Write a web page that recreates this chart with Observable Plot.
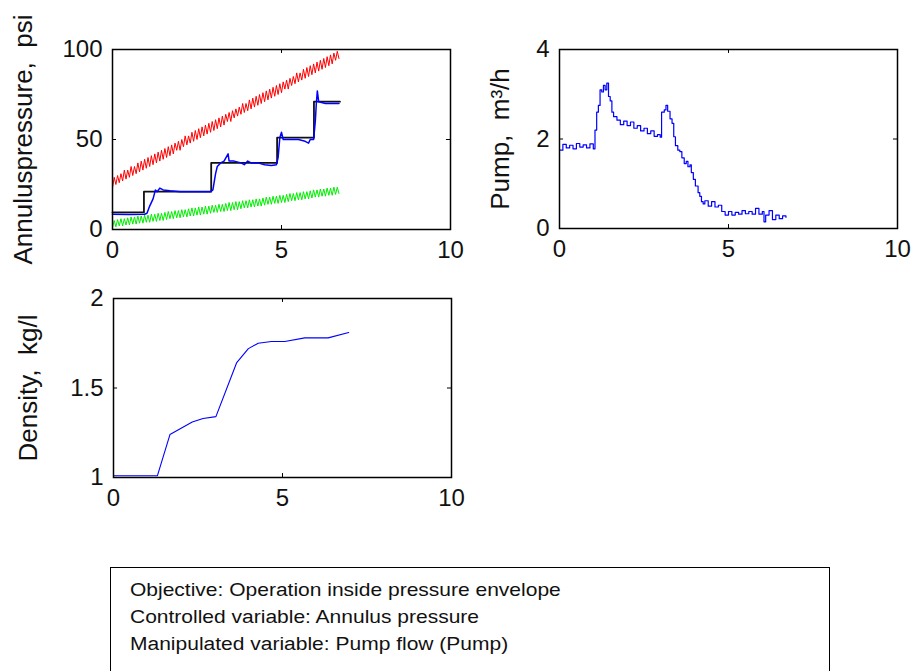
<!DOCTYPE html>
<html>
<head>
<meta charset="utf-8">
<script src="https://cdn.jsdelivr.net/npm/d3@7"></script>
<script src="https://cdn.jsdelivr.net/npm/@observablehq/plot@0.6"></script>
<style>
  html, body { margin: 0; padding: 0; background: #fff; }
  #root { position: relative; width: 913px; height: 671px; overflow: hidden; background: #fff; font-family: "Liberation Sans", Arial, sans-serif; }
  .panel { position: absolute; }
  #note { position: absolute; left: 110px; top: 567px; width: 720px; height: 130px; border: 1.5px solid #000; box-sizing: border-box; }
  #note div { position: absolute; left: 19px; font-size: 21px; color: #111; white-space: nowrap; transform-origin: 0 50%; transform: scaleY(0.88); }
</style>
</head>
<body>
<div id="root">
  <div id="p1" class="panel" style="left:0px;top:0px"></div>
  <div id="p2" class="panel" style="left:440px;top:0px"></div>
  <div id="p3" class="panel" style="left:0px;top:250px"></div>
  <div id="note">
    <div style="top:10px">Objective: Operation inside pressure envelope</div>
    <div style="top:37px">Controlled variable: Annulus pressure</div>
    <div style="top:64px">Manipulated variable: Pump flow (Pump)</div>
  </div>
</div>
<script>
// ---------- data ----------
const xTicks = [0, 5, 10];

// sampling times for the envelope limits (h)
const tGrid = [0,0.05,0.1,0.15,0.2,0.25,0.3,0.35,0.4,0.45,0.5,0.55,0.6,0.65,0.7,0.75,0.8,0.85,0.9,0.95,
  1.0,1.05,1.1,1.15,1.2,1.25,1.3,1.35,1.4,1.45,1.5,1.55,1.6,1.65,1.7,1.75,1.8,1.85,1.9,1.95,
  2.0,2.05,2.1,2.15,2.2,2.25,2.3,2.35,2.4,2.45,2.5,2.55,2.6,2.65,2.7,2.75,2.8,2.85,2.9,2.95,
  3.0,3.05,3.1,3.15,3.2,3.25,3.3,3.35,3.4,3.45,3.5,3.55,3.6,3.65,3.7,3.75,3.8,3.85,3.9,3.95,
  4.0,4.05,4.1,4.15,4.2,4.25,4.3,4.35,4.4,4.45,4.5,4.55,4.6,4.65,4.7,4.75,4.8,4.85,4.9,4.95,
  5.0,5.05,5.1,5.15,5.2,5.25,5.3,5.35,5.4,5.45,5.5,5.55,5.6,5.65,5.7,5.75,5.8,5.85,5.9,5.95,
  6.0,6.05,6.1,6.15,6.2,6.25,6.3,6.35,6.4,6.45,6.5,6.55,6.6,6.65,6.7];
// upper pressure limit (red)
const upperLimit = [23,29,25,30,26,31,27,33,28,33,29,35,30,35,31,37,32,38,33,39,
  34,40,35,41,36,42,37,43,38,44,39,45,40,46,41,47,42,48,44,49,
  44,50,46,52,47,52,48,54,49,55,50,56,51,57,52,58,53,59,54,60,
  55,61,56,62,57,63,58,64,60,65,60,66,62,67,63,68,64,70,65,70,
  66,72,67,73,68,74,69,75,70,76,71,77,72,78,73,79,74,80,75,81,
  76,82,78,83,78,84,80,85,81,87,82,87,83,89,84,90,85,91,86,92,
  87,93,88,94,89,95,90,96,91,97,92,98,94,99,95];
// lower pressure limit (green)
const lowerLimit = [1,5,1.5,5.5,2,6,2,6,2.5,6.5,2.5,7,3,7,3,7.5,3.5,7.5,3.5,8,
  4,8,4,8.5,4.5,8.5,4.5,9,5,9,5,9.5,5.5,10,6,10,6,10.5,6.5,10.5,
  6.5,11,7,11,7,11.5,7.5,12,7.5,12,8,12.5,8,12.5,8.5,13,8.5,13,9,13.5,
  9.5,13.5,9.5,14,10,14,10,14.5,10.5,15,10.5,15,11,15.5,11,15.5,11.5,16,12,16,
  12,16.5,12.5,16.5,12.5,17,13,17,13,17.5,13.5,18,14,18,14,18.5,14.5,18.5,14.5,19,
  15,19,15,19.5,15.5,20,16,20,16,20.5,16.5,20.5,16.5,21,17,21,17,21.5,17.5,22,
  18,22,18,22.5,18.5,22.5,18.5,23,19,23,19,23.5,19.5,23.5,20];
// annulus pressure setpoint (black, stepwise)
const spTime = [0, 0.93, 2.92, 4.87, 5.96, 6.73];
const spPressure = [9.5, 21, 37, 51, 71, 71];
// measured annulus pressure (blue)
const presTime = [0,0.5,0.95,1.02,1.1,1.2,1.27,1.32,1.4,1.5,1.7,2.0,2.5,2.9,2.97,3.05,3.1,3.2,3.3,3.42,3.45,3.6,3.8,3.9,4.0,4.1,4.3,4.5,4.7,4.85,4.9,4.95,5.0,5.05,5.3,5.5,5.7,5.8,5.85,5.95,6.0,6.03,6.06,6.1,6.3,6.7];
const presValue = [8.5,8.3,8.5,9,13,17,22,21,23,22,21.5,21,21,21,22,31,35,37,38,42,38,38,37,36,38,37,37,36,35.5,36,40,51,54,50,50,50,49,48,50,50,60,70,77,71,70,70];

// pump flow (m3/h)
const pumpTime = [0,0.1,0.2,0.3,0.4,0.5,0.6,0.7,0.8,0.9,1.0,1.05,1.1,1.15,1.2,1.25,1.3,1.35,1.4,1.45,1.5,1.55,1.6,1.7,1.8,1.9,2.0,2.1,2.2,2.3,2.4,2.5,2.6,2.7,2.8,2.9,2.98,3.02,3.1,3.15,3.2,3.27,3.33,3.38,3.43,3.5,3.56,3.62,3.69,3.75,3.8,3.86,3.9,3.96,4.02,4.1,4.15,4.2,4.25,4.3,4.4,4.5,4.6,4.7,4.8,4.9,5.0,5.1,5.2,5.3,5.4,5.5,5.6,5.7,5.8,5.9,6.0,6.05,6.1,6.2,6.3,6.4,6.5,6.6,6.7];
const pumpFlow = [1.75,1.88,1.80,1.86,1.78,1.90,1.82,1.87,1.80,1.89,1.78,2.2,2.6,2.75,3.1,3.05,3.2,3.1,3.25,2.95,2.85,2.6,2.5,2.42,2.32,2.40,2.30,2.38,2.24,2.30,2.18,2.24,2.12,2.18,2.06,2.10,2.04,2.6,2.65,2.75,2.62,2.45,2.35,2.05,1.85,1.75,1.72,1.58,1.45,1.5,1.38,1.42,1.25,1.1,0.95,0.8,0.72,0.6,0.55,0.62,0.5,0.6,0.48,0.52,0.38,0.30,0.38,0.30,0.36,0.32,0.40,0.33,0.38,0.32,0.45,0.32,0.38,0.15,0.30,0.40,0.20,0.30,0.22,0.28,0.25];

// mud density (kg/l)
const densTime = [0.02,1.3,1.67,2.33,2.65,3.03,3.64,3.99,4.28,4.67,5.07,5.66,6.35,6.96];
const densValue = [1.01,1.01,1.24,1.31,1.33,1.34,1.64,1.72,1.75,1.76,1.76,1.78,1.78,1.81];

// ---------- helpers ----------
const FONT = "'Liberation Sans', Arial, sans-serif";
const zip = (xs, ys) => xs.map((x, i) => ({x, y: ys[i]}));

function boxTicks(xDom, yDom, yTicks, xTicksArr) {
  const ty = (yDom[1] - yDom[0]) * 0.022;
  const tx = (xDom[1] - xDom[0]) * 0.012;
  return [
    Plot.ruleX(xTicksArr, {x: d => d, y1: yDom[0], y2: yDom[0] + ty, stroke: "black"}),
    Plot.ruleX(xTicksArr, {x: d => d, y1: yDom[1] - ty, y2: yDom[1], stroke: "black"}),
    Plot.ruleY(yTicks, {y: d => d, x1: xDom[0], x2: xDom[0] + tx, stroke: "black"}),
    Plot.ruleY(yTicks, {y: d => d, x1: xDom[1] - tx, x2: xDom[1], stroke: "black"})
  ];
}

function axes(yTicks, label, labelOffset) {
  return [
    Plot.axisX({ticks: xTicks, tickSize: 0, tickPadding: 11, fontSize: 24, tickFormat: d => String(d), label: null}),
    Plot.axisY({ticks: yTicks, tickSize: 0, tickPadding: 10, fontSize: 24, tickFormat: d => String(d), label: null}),
    Plot.text([label], {frameAnchor: "left", rotate: -90, dx: -labelOffset, textAnchor: "middle", lineAnchor: "top", fontSize: 26, text: d => d, fill: "#111"})
  ];
}

const style = {fontFamily: FONT, fontSize: "24px", color: "#111", background: "transparent", overflow: "visible"};

// ---------- panel 1: annulus pressure ----------
{
  const xDom = [0, 10], yDom = [0, 100], yT = [0, 50, 100];
  const chart = Plot.plot({
    width: 470, height: 275,
    marginLeft: 112, marginTop: 49, marginRight: 20, marginBottom: 46,
    x: {domain: xDom}, y: {domain: yDom},
    style,
    marks: [
      Plot.line(zip(tGrid, upperLimit), {x: "x", y: "y", stroke: "#ff0000", strokeWidth: 1}),
      Plot.line(zip(tGrid, lowerLimit), {x: "x", y: "y", stroke: "#00ee00", strokeWidth: 1}),
      Plot.line(zip(spTime, spPressure), {x: "x", y: "y", stroke: "#111", strokeWidth: 1.8, curve: "step-after"}),
      Plot.line(zip(presTime, presValue), {x: "x", y: "y", stroke: "#0000ff", strokeWidth: 1.5}),
      ...boxTicks(xDom, yDom, yT, xTicks),
      Plot.frame({stroke: "black", strokeWidth: 1.5}),
      ...axes(yT, "Annuluspressure,  psi", 99)
    ]
  });
  document.getElementById("p1").append(chart);
}

// ---------- panel 2: pump ----------
{
  const xDom = [0, 10], yDom = [0, 4], yT = [0, 2, 4];
  const chart = Plot.plot({
    width: 472, height: 275,
    marginLeft: 119, marginTop: 49, marginRight: 15, marginBottom: 47,
    x: {domain: xDom}, y: {domain: yDom},
    style,
    marks: [
      Plot.line(zip(pumpTime, pumpFlow), {x: "x", y: "y", stroke: "#0000ff", strokeWidth: 1.2, curve: "step-after"}),
      ...boxTicks(xDom, yDom, yT, xTicks),
      Plot.frame({stroke: "black", strokeWidth: 1.5}),
      ...axes(yT, "Pump,  m³/h", 69)
    ]
  });
  document.getElementById("p2").append(chart);
}

// ---------- panel 3: density ----------
{
  const xDom = [0, 10], yDom = [1, 2], yT = [1, 1.5, 2];
  const chart = Plot.plot({
    width: 470, height: 274,
    marginLeft: 113, marginTop: 48, marginRight: 19, marginBottom: 47,
    x: {domain: xDom}, y: {domain: yDom},
    style,
    marks: [
      Plot.line(zip(densTime, densValue), {x: "x", y: "y", stroke: "#0000ff", strokeWidth: 1.1}),
      ...boxTicks(xDom, yDom, yT, xTicks),
      Plot.frame({stroke: "black", strokeWidth: 1.5}),
      ...axes(yT, "Density,  kg/l", 95)
    ]
  });
  document.getElementById("p3").append(chart);
}
</script>
</body>
</html>
